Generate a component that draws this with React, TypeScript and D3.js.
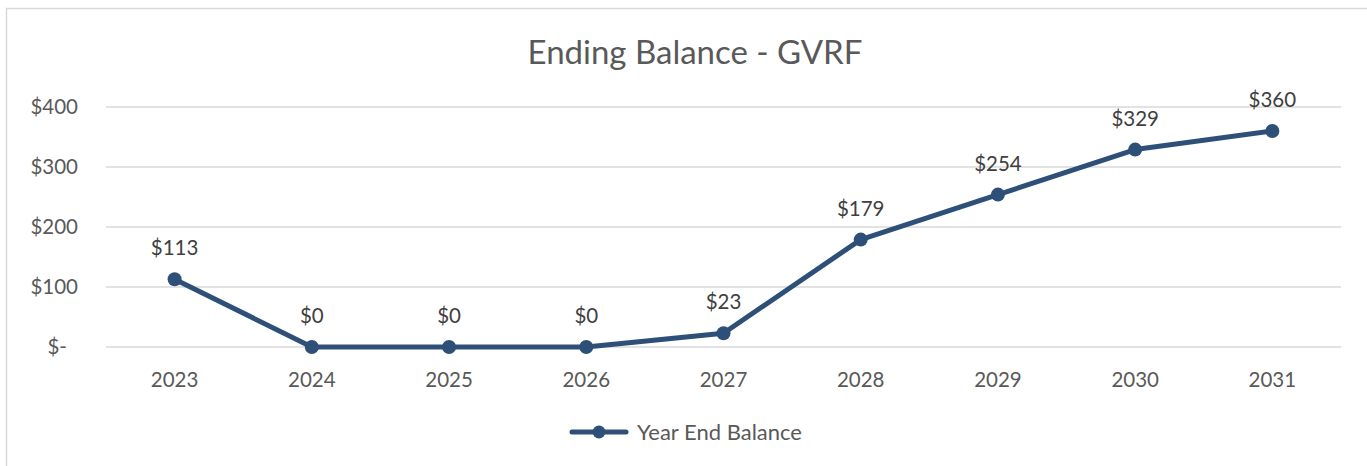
import React, { useEffect, useRef } from "react";
import * as d3 from "d3";

const years = ["2023", "2024", "2025", "2026", "2027", "2028", "2029", "2030", "2031"];
const balances = [113, 0, 0, 0, 23, 179, 254, 329, 360];
const yTicks = [0, 100, 200, 300, 400];
const seriesName = "Year End Balance";
const chartTitle = "Ending Balance - GVRF";

const W = 1367;
const H = 466;
const lineColor = "#2e5078";
const textColor = "#595959";
const gridColor = "#d9d9d9";
const font = "Lato, 'Open Sans', sans-serif";

const App = () => {
  const svgRef = useRef<SVGSVGElement>(null);

  useEffect(() => {
    document.body.style.margin = "0";
    const svg = d3.select(svgRef.current);
    svg.selectAll("*").remove();

    const margin = { top: 107, right: 26, bottom: 119, left: 106 };

    const x = d3
      .scaleBand()
      .domain(years)
      .range([margin.left, W - margin.right]);

    const y = d3
      .scaleLinear()
      .domain([0, 400])
      .range([H - margin.bottom, margin.top]);

    // chart area border
    svg
      .append("rect")
      .attr("x", 6.5)
      .attr("y", 8.5)
      .attr("width", W)
      .attr("height", H)
      .attr("fill", "#fff")
      .attr("stroke", gridColor)
      .attr("stroke-width", 1.5);

    // title
    svg
      .append("text")
      .attr("x", 695)
      .attr("y", 64)
      .attr("text-anchor", "middle")
      .attr("font-family", font)
      .attr("font-size", 33)
      .attr("fill", textColor)
      .text(chartTitle);

    // gridlines
    svg
      .append("g")
      .selectAll("line")
      .data(yTicks)
      .join("line")
      .attr("x1", margin.left)
      .attr("x2", W - margin.right)
      .attr("y1", (d) => y(d))
      .attr("y2", (d) => y(d))
      .attr("stroke", gridColor)
      .attr("stroke-width", 1.5);

    // y labels
    svg
      .append("g")
      .selectAll("text")
      .data(yTicks)
      .join("text")
      .attr("x", (d) => (d === 0 ? 67 : 78))
      .attr("y", (d) => y(d))
      .attr("dy", "0.36em")
      .attr("text-anchor", "end")
      .attr("font-family", font)
      .attr("font-size", 20.5)
      .attr("fill", textColor)
      .text((d) => (d === 0 ? "$-" : `$${d}`));

    // x labels
    svg
      .append("g")
      .selectAll("text")
      .data(years)
      .join("text")
      .attr("x", (d) => x(d)! + x.bandwidth() / 2)
      .attr("y", 387)
      .attr("text-anchor", "middle")
      .attr("font-family", font)
      .attr("font-size", 20.5)
      .attr("fill", textColor)
      .text((d) => d);

    const points = years.map((yr, i) => ({ yr, v: balances[i] }));
    const cx = (d: { yr: string }) => x(d.yr)! + x.bandwidth() / 2;

    const line = d3
      .line<{ yr: string; v: number }>()
      .x(cx)
      .y((d) => y(d.v));

    svg
      .append("path")
      .datum(points)
      .attr("d", line)
      .attr("fill", "none")
      .attr("stroke", lineColor)
      .attr("stroke-width", 5)
      .attr("stroke-linejoin", "round")
      .attr("stroke-linecap", "round");

    svg
      .append("g")
      .selectAll("circle")
      .data(points)
      .join("circle")
      .attr("cx", cx)
      .attr("cy", (d) => y(d.v))
      .attr("r", 7)
      .attr("fill", lineColor);

    // data labels
    svg
      .append("g")
      .selectAll("text")
      .data(points)
      .join("text")
      .attr("x", cx)
      .attr("y", (d) => y(d.v) - 24)
      .attr("text-anchor", "middle")
      .attr("font-family", font)
      .attr("font-size", 20.5)
      .attr("fill", "#404040")
      .text((d) => `$${d.v}`);

    // legend
    const lg = svg.append("g");
    lg.append("line")
      .attr("x1", 572)
      .attr("x2", 626)
      .attr("y1", 432)
      .attr("y2", 432)
      .attr("stroke", lineColor)
      .attr("stroke-width", 5)
      .attr("stroke-linecap", "round");
    lg.append("circle").attr("cx", 599).attr("cy", 432).attr("r", 6.5).attr("fill", lineColor);
    lg.append("text")
      .attr("x", 637)
      .attr("y", 432)
      .attr("dy", "0.36em")
      .attr("font-family", font)
      .attr("font-size", 22)
      .attr("fill", textColor)
      .text(seriesName);
  }, []);

  return <svg ref={svgRef} width={W} height={H} style={{ display: "block" }}></svg>;
};

export default App;
